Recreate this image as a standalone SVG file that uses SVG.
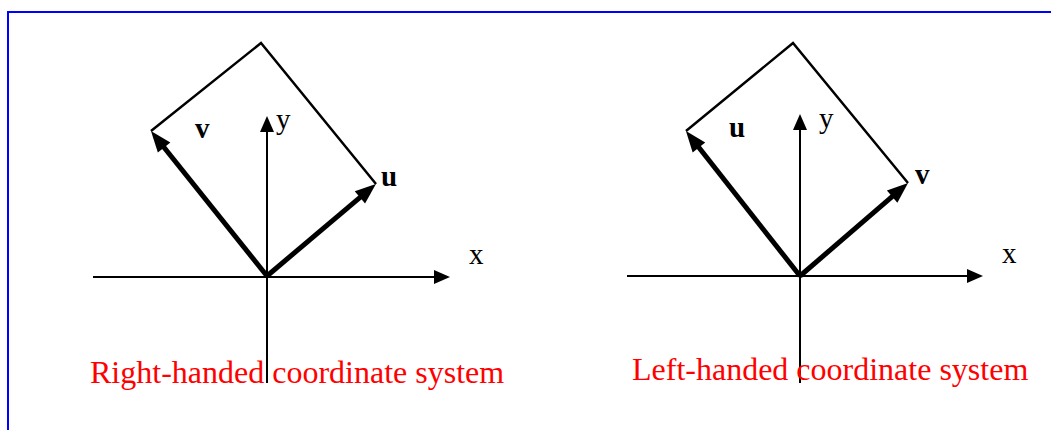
<svg xmlns="http://www.w3.org/2000/svg" width="1051" height="430" viewBox="0 0 1051 430">
<style>
.axis{stroke:#000;stroke-width:2;fill:none}
.vec{stroke:#000;stroke-width:5;fill:none}
.edge{stroke:#000;stroke-width:2.5;fill:none;stroke-linejoin:miter}
.lbl{font-family:"Liberation Serif","Times New Roman",serif;font-size:29px;fill:#000}
.b{font-weight:bold}
.cap{font-family:"Liberation Serif","Times New Roman",serif;font-size:32px;fill:#FF0000}
</style>
<defs>
<marker id="ah" markerUnits="userSpaceOnUse" markerWidth="16" markerHeight="14" refX="6" refY="7" orient="auto" overflow="visible">
<path d="M0,0 L16,7 L0,14 z" fill="#000"/>
</marker>
<marker id="vh" markerUnits="userSpaceOnUse" markerWidth="22" markerHeight="16" refX="8" refY="8" orient="auto" overflow="visible">
<path d="M0,0 L21,8 L0,16 z" fill="#000"/>
</marker>
</defs>
<rect x="8" y="12" width="1100" height="500" fill="none" stroke="#0000FF" stroke-width="2"/>
<g id="right-handed">
<g id="rh-axes">
<line class="axis" x1="93" y1="277" x2="440" y2="277" marker-end="url(#ah)"/>
<line class="axis" x1="267" y1="383" x2="267" y2="126" marker-end="url(#ah)"/>
</g>
<g id="rh-vectors">
<polyline class="edge" points="151,131 261,43 376,184"/>
<line class="vec" x1="267" y1="276" x2="366" y2="192.3" marker-end="url(#vh)"/>
<line class="vec" x1="267" y1="276" x2="159.1" y2="141.2" marker-end="url(#vh)"/>
</g>
<text class="lbl b" x="195" y="138">v</text>
<text class="lbl" x="276" y="129">y</text>
<text class="lbl b" x="381" y="186">u</text>
<text class="lbl" x="469" y="264">x</text>
<text class="cap" x="90" y="383">Right-handed coordinate system</text>
</g>
<g id="left-handed">
<g id="lh-axes">
<line class="axis" x1="627" y1="276" x2="973" y2="276" marker-end="url(#ah)"/>
<line class="axis" x1="800" y1="383" x2="800" y2="124" marker-end="url(#ah)"/>
</g>
<g id="lh-vectors">
<polyline class="edge" points="686,131 793,43 908,183"/>
<line class="vec" x1="800" y1="276" x2="898.2" y2="191.4" marker-end="url(#vh)"/>
<line class="vec" x1="800" y1="276" x2="694" y2="141.2" marker-end="url(#vh)"/>
</g>
<text class="lbl b" x="729" y="137">u</text>
<text class="lbl" x="819" y="128">y</text>
<text class="lbl b" x="915" y="184">v</text>
<text class="lbl" x="1002" y="263">x</text>
<text class="cap" x="632" y="380">Left-handed coordinate system</text>
</g>
</svg>
